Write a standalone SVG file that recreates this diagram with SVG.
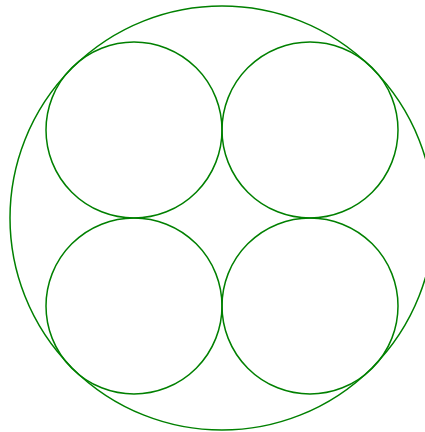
<svg xmlns="http://www.w3.org/2000/svg" width="425" height="432" viewBox="0 0 425 432">
<style>circle{fill:none;stroke:#008000;stroke-width:1.5}</style>
<rect width="425" height="432" fill="#fff"/>
<g id="outer"><circle cx="222" cy="218" r="212"/></g>
<g id="c1"><circle cx="134" cy="130" r="88"/></g>
<g id="c2"><circle cx="310" cy="130" r="88"/></g>
<g id="c3"><circle cx="134" cy="306" r="88"/></g>
<g id="c4"><circle cx="310" cy="306" r="88"/></g>
<g id="connectors"></g>
</svg>
